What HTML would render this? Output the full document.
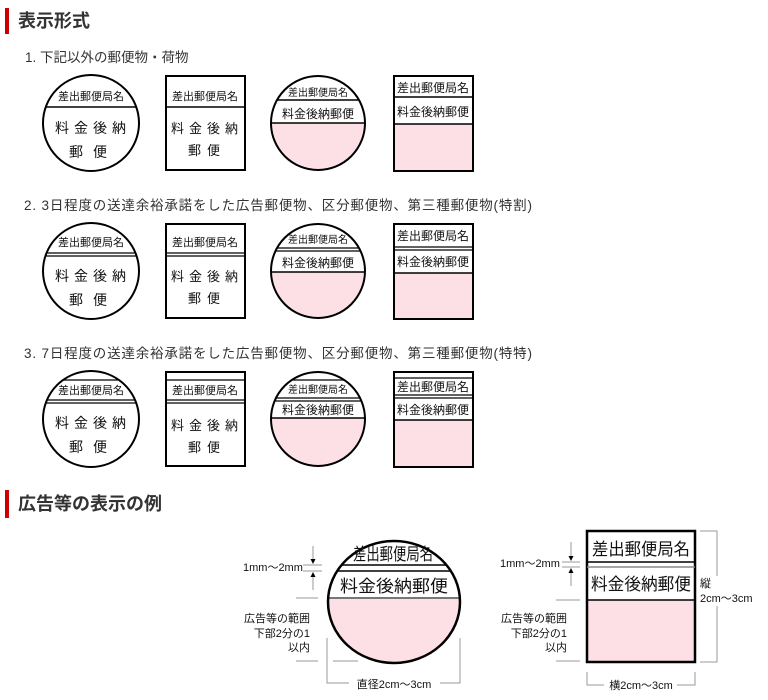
<!DOCTYPE html>
<html><head><meta charset="utf-8"><style>
html,body{margin:0;padding:0;background:#fff;width:768px;height:700px;overflow:hidden}
svg{display:block}
text{font-family:"Liberation Sans","Noto Sans CJK JP",sans-serif;fill:#111}
.h{font-size:18px;font-weight:bold;fill:#333}
.it{font-size:13.5px;fill:#333}
.s{font-size:11px}
.m{font-size:14px}
.g{stroke:#999;stroke-width:1;fill:none}
</style></head><body>
<svg width="768" height="700" viewBox="0 0 768 700">
<defs>
<clipPath id="c1"><circle cx="91" cy="123" r="48"/></clipPath>
<clipPath id="c2"><circle cx="318" cy="123" r="47"/></clipPath>
<clipPath id="bc"><ellipse cx="394" cy="602" rx="66" ry="61"/></clipPath>
</defs>
<rect x="5" y="8" width="4" height="26" fill="#c00"/>
<text class="h" x="18" y="27">表示形式</text>
<text class="it" x="25" y="62">1. 下記以外の郵便物・荷物</text>
<text class="it" x="24" y="210" textLength="508">2. 3日程度の送達余裕承諾をした広告郵便物、区分郵便物、第三種郵便物(特割)</text>
<text class="it" x="24" y="358" textLength="508">3. 7日程度の送達余裕承諾をした広告郵便物、区分郵便物、第三種郵便物(特特)</text>

<!-- ROW 1 -->
<g>
<circle cx="91" cy="123" r="48" fill="#fff" stroke="#000" stroke-width="2"/>
<g clip-path="url(#c1)" stroke="#000" stroke-width="1.5"><line x1="40" y1="107" x2="142" y2="107"/></g>
<text class="s" x="91" y="100" text-anchor="middle">差出郵便局名</text>
<text class="m" x="93" y="133" text-anchor="middle" letter-spacing="5">料金後納</text>
<text class="m" x="93" y="157" text-anchor="middle" letter-spacing="10">郵便</text>
<rect x="166" y="76" width="79" height="94" fill="#fff" stroke="#000" stroke-width="2"/>
<line x1="166" y1="107" x2="245" y2="107" stroke="#000" stroke-width="1.5"/>
<text class="s" x="205" y="100" text-anchor="middle">差出郵便局名</text>
<text x="207" y="133" font-size="13" text-anchor="middle" letter-spacing="5">料金後納</text>
<text x="207" y="155" font-size="13" text-anchor="middle" letter-spacing="6">郵便</text>
<circle cx="318" cy="123" r="47" fill="#fff"/>
<g clip-path="url(#c2)"><rect x="260" y="123" width="120" height="60" fill="#fde0e6"/>
<line x1="260" y1="100" x2="380" y2="100" stroke="#000" stroke-width="1.5"/>
<line x1="260" y1="123" x2="380" y2="123" stroke="#000" stroke-width="1.5"/></g>
<circle cx="318" cy="123" r="47" fill="none" stroke="#000" stroke-width="2"/>
<text x="318" y="96" font-size="10" text-anchor="middle">差出郵便局名</text>
<text x="318" y="118" font-size="12" text-anchor="middle">料金後納郵便</text>
<rect x="394" y="124" width="78" height="46" fill="#fde0e6"/>
<rect x="394" y="76" width="79" height="95" fill="none" stroke="#000" stroke-width="2"/>
<line x1="394" y1="97" x2="473" y2="97" stroke="#000" stroke-width="1.5"/>
<line x1="394" y1="124" x2="473" y2="124" stroke="#000" stroke-width="1.5"/>
<text x="433" y="92" font-size="12" text-anchor="middle">差出郵便局名</text>
<text x="433" y="116" font-size="12" text-anchor="middle">料金後納郵便</text>
</g>

<!-- ROW 2 -->
<g transform="translate(0,148)">
<circle cx="91" cy="123" r="48" fill="#fff" stroke="#000" stroke-width="2"/>
<g clip-path="url(#c1)" stroke="#000" stroke-width="1.2"><line x1="40" y1="105" x2="142" y2="105"/><line x1="40" y1="108" x2="142" y2="108"/></g>
<text class="s" x="91" y="98" text-anchor="middle">差出郵便局名</text>
<text class="m" x="93" y="133" text-anchor="middle" letter-spacing="5">料金後納</text>
<text class="m" x="93" y="157" text-anchor="middle" letter-spacing="10">郵便</text>
<rect x="166" y="76" width="79" height="94" fill="#fff" stroke="#000" stroke-width="2"/>
<line x1="166" y1="105" x2="245" y2="105" stroke="#000" stroke-width="1.2"/>
<line x1="166" y1="108" x2="245" y2="108" stroke="#000" stroke-width="1.2"/>
<text class="s" x="205" y="98" text-anchor="middle">差出郵便局名</text>
<text x="207" y="133" font-size="13" text-anchor="middle" letter-spacing="5">料金後納</text>
<text x="207" y="155" font-size="13" text-anchor="middle" letter-spacing="6">郵便</text>
<g clip-path="url(#c2)"><rect x="260" y="124" width="120" height="60" fill="#fde0e6"/>
<line x1="260" y1="100" x2="380" y2="100" stroke="#000" stroke-width="1.2"/>
<line x1="260" y1="103" x2="380" y2="103" stroke="#000" stroke-width="1.2"/>
<line x1="260" y1="124" x2="380" y2="124" stroke="#000" stroke-width="1.5"/></g>
<circle cx="318" cy="123" r="47" fill="none" stroke="#000" stroke-width="2"/>
<text x="318" y="95" font-size="10" text-anchor="middle">差出郵便局名</text>
<text x="318" y="119" font-size="12" text-anchor="middle">料金後納郵便</text>
<rect x="394" y="125" width="78" height="45" fill="#fde0e6"/>
<rect x="394" y="76" width="79" height="95" fill="none" stroke="#000" stroke-width="2"/>
<line x1="394" y1="99" x2="473" y2="99" stroke="#000" stroke-width="1.2"/>
<line x1="394" y1="102" x2="473" y2="102" stroke="#000" stroke-width="1.2"/>
<line x1="394" y1="125" x2="473" y2="125" stroke="#000" stroke-width="1.5"/>
<text x="433" y="92" font-size="12" text-anchor="middle">差出郵便局名</text>
<text x="433" y="118" font-size="12" text-anchor="middle">料金後納郵便</text>
</g>

<!-- ROW 3 -->
<g transform="translate(0,296)">
<circle cx="91" cy="123" r="48" fill="#fff" stroke="#000" stroke-width="2"/>
<g clip-path="url(#c1)" stroke="#000" stroke-width="1.2"><line x1="40" y1="84" x2="142" y2="84"/><line x1="40" y1="104" x2="142" y2="104"/><line x1="40" y1="107" x2="142" y2="107"/></g>
<text class="s" x="91" y="98" text-anchor="middle">差出郵便局名</text>
<text class="m" x="93" y="132" text-anchor="middle" letter-spacing="5">料金後納</text>
<text class="m" x="93" y="156" text-anchor="middle" letter-spacing="10">郵便</text>
<rect x="166" y="76" width="79" height="94" fill="#fff" stroke="#000" stroke-width="2"/>
<line x1="166" y1="84" x2="245" y2="84" stroke="#000" stroke-width="1.2"/>
<line x1="166" y1="104" x2="245" y2="104" stroke="#000" stroke-width="1.2"/>
<line x1="166" y1="107" x2="245" y2="107" stroke="#000" stroke-width="1.2"/>
<text class="s" x="205" y="98" text-anchor="middle">差出郵便局名</text>
<text x="207" y="134" font-size="13" text-anchor="middle" letter-spacing="5">料金後納</text>
<text x="207" y="156" font-size="13" text-anchor="middle" letter-spacing="6">郵便</text>
<g clip-path="url(#c2)"><rect x="260" y="122" width="120" height="60" fill="#fde0e6"/>
<line x1="260" y1="84" x2="380" y2="84" stroke="#000" stroke-width="1.2"/>
<line x1="260" y1="102" x2="380" y2="102" stroke="#000" stroke-width="1.2"/>
<line x1="260" y1="105" x2="380" y2="105" stroke="#000" stroke-width="1.2"/>
<line x1="260" y1="122" x2="380" y2="122" stroke="#000" stroke-width="1.5"/></g>
<circle cx="318" cy="123" r="47" fill="none" stroke="#000" stroke-width="2"/>
<text x="318" y="97" font-size="10" text-anchor="middle">差出郵便局名</text>
<text x="318" y="118" font-size="12" text-anchor="middle">料金後納郵便</text>
<rect x="394" y="124" width="78" height="46" fill="#fde0e6"/>
<rect x="394" y="76" width="79" height="95" fill="none" stroke="#000" stroke-width="2"/>
<line x1="394" y1="82" x2="473" y2="82" stroke="#000" stroke-width="1.2"/>
<line x1="394" y1="99" x2="473" y2="99" stroke="#000" stroke-width="1.2"/>
<line x1="394" y1="102" x2="473" y2="102" stroke="#000" stroke-width="1.2"/>
<line x1="394" y1="124" x2="473" y2="124" stroke="#000" stroke-width="1.5"/>
<text x="433" y="95" font-size="12" text-anchor="middle">差出郵便局名</text>
<text x="433" y="118" font-size="12" text-anchor="middle">料金後納郵便</text>
</g>

<!-- SECTION 2 -->
<rect x="5" y="490" width="4" height="28" fill="#c00"/>
<text class="h" x="18" y="510">広告等の表示の例</text>

<!-- big circle -->
<g clip-path="url(#bc)">
<rect x="320" y="598" width="150" height="70" fill="#fde0e6"/>
<line x1="320" y1="565" x2="470" y2="565" stroke="#000" stroke-width="1.5"/>
<line x1="320" y1="571" x2="470" y2="571" stroke="#000" stroke-width="1.5"/>
<line x1="320" y1="598" x2="470" y2="598" stroke="#777" stroke-width="2"/>
</g>
<ellipse cx="394" cy="602" rx="66" ry="61" fill="none" stroke="#000" stroke-width="2.5"/>
<text x="353" y="560" font-size="17" textLength="80" lengthAdjust="spacingAndGlyphs">差出郵便局名</text>
<text x="340" y="592" font-size="17" textLength="108" lengthAdjust="spacingAndGlyphs">料金後納郵便</text>
<text x="243" y="571" font-size="11">1mm～2mm</text>
<line class="g" x1="303" y1="565" x2="322" y2="565"/>
<line class="g" x1="303" y1="571" x2="322" y2="571"/>
<line class="g" x1="313" y1="546" x2="313" y2="562"/>
<path d="M310.5 559 L315.5 559 L313 564 Z" fill="#000"/>
<line class="g" x1="313" y1="574" x2="313" y2="590"/>
<path d="M310.5 577 L315.5 577 L313 572 Z" fill="#000"/>
<line class="g" x1="296" y1="598" x2="318" y2="598"/>
<text x="310" y="622" font-size="11" text-anchor="end">広告等の範囲</text>
<text x="310" y="637" font-size="11" text-anchor="end">下部2分の1</text>
<text x="310" y="651" font-size="11" text-anchor="end">以内</text>
<line class="g" x1="296" y1="661" x2="318" y2="661"/>
<line class="g" x1="333" y1="661" x2="358" y2="661"/>
<polyline class="g" points="327,638 327,683 349,683"/>
<polyline class="g" points="460,638 460,683 440,683"/>
<text x="394" y="688" font-size="11" text-anchor="middle">直径2cm～3cm</text>

<!-- big rect -->
<rect x="587" y="600" width="107" height="61" fill="#fde0e6"/>
<rect x="587" y="531" width="108" height="131" fill="none" stroke="#000" stroke-width="2.5"/>
<line x1="587" y1="562" x2="695" y2="562" stroke="#000" stroke-width="1.5"/>
<line x1="587" y1="567" x2="695" y2="567" stroke="#888" stroke-width="1.5"/>
<line x1="587" y1="600" x2="695" y2="600" stroke="#000" stroke-width="1.5"/>
<text x="592" y="555" font-size="17" textLength="98" lengthAdjust="spacingAndGlyphs">差出郵便局名</text>
<text x="591" y="590" font-size="17" textLength="100" lengthAdjust="spacingAndGlyphs">料金後納郵便</text>
<text x="500" y="567" font-size="11">1mm～2mm</text>
<line class="g" x1="562" y1="562" x2="580" y2="562"/>
<line class="g" x1="562" y1="567" x2="580" y2="567"/>
<line class="g" x1="571" y1="542" x2="571" y2="559"/>
<path d="M568.5 556 L573.5 556 L571 561 Z" fill="#000"/>
<line class="g" x1="571" y1="570" x2="571" y2="586"/>
<path d="M568.5 573 L573.5 573 L571 568 Z" fill="#000"/>
<line class="g" x1="556" y1="600" x2="580" y2="600"/>
<text x="567" y="622" font-size="11" text-anchor="end">広告等の範囲</text>
<text x="567" y="637" font-size="11" text-anchor="end">下部2分の1</text>
<text x="567" y="651" font-size="11" text-anchor="end">以内</text>
<line class="g" x1="556" y1="661" x2="580" y2="661"/>
<polyline class="g" points="700,531 717,531 717,662 700,662"/>
<rect x="698" y="576" width="60" height="30" fill="#fff"/>
<text x="700" y="587" font-size="11">縦</text>
<text x="700" y="602" font-size="11">2cm～3cm</text>
<polyline class="g" points="587,672 587,685 604,685"/>
<polyline class="g" points="695,672 695,685 677,685"/>
<text x="641" y="689" font-size="11" text-anchor="middle">横2cm～3cm</text>
</svg>
</body></html>
